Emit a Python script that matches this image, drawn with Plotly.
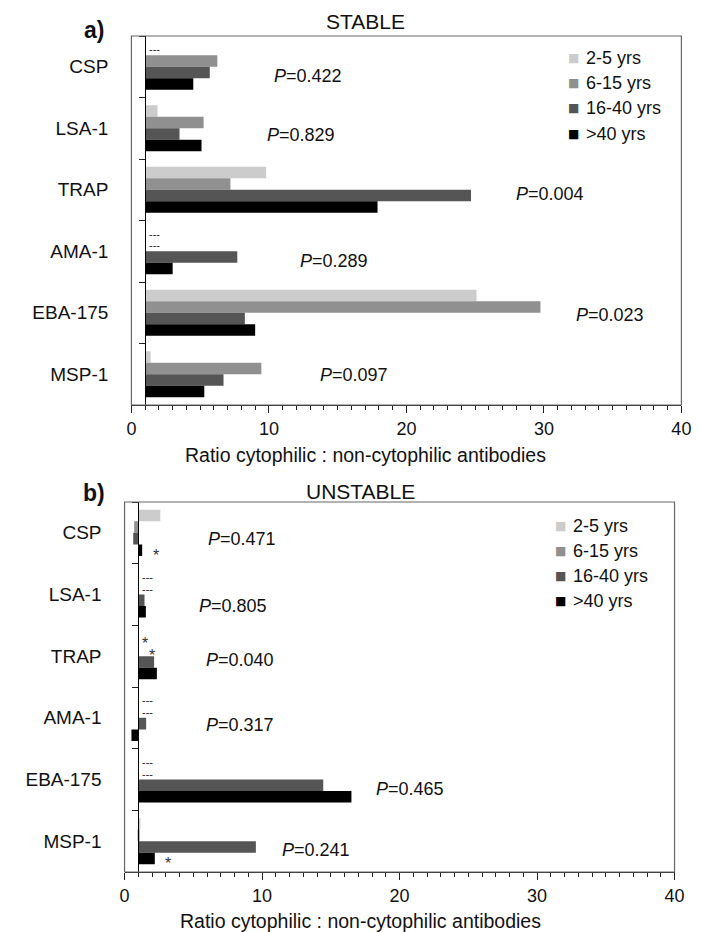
import plotly.graph_objects as go

# ---------------- data ----------------
categories = ["CSP", "LSA-1", "TRAP", "AMA-1", "EBA-175", "MSP-1"]
age_groups = ["2-5 yrs", "6-15 yrs", "16-40 yrs", ">40 yrs"]
group_colors = ["#cccccc", "#909090", "#555555", "#000000"]

stable_2_5 = [None, 1.9, 9.8, None, 25.1, 1.4]
stable_6_15 = [6.25, 5.25, 7.2, None, 29.75, 9.45]
stable_16_40 = [5.7, 3.5, 24.7, 7.7, 8.25, 6.7]
stable_gt40 = [4.5, 5.1, 17.9, 3.0, 9.0, 5.3]

unstable_2_5 = [2.6, None, None, None, None, 1.15]
unstable_6_15 = [0.7, None, None, None, None, 1.1]
unstable_16_40 = [0.63, 1.45, 2.15, 1.57, 14.45, 9.55]
unstable_gt40 = [1.28, 1.55, 2.35, 0.5, 16.5, 2.2]

stable_p = ["0.422", "0.829", "0.004", "0.289", "0.023", "0.097"]
unstable_p = ["0.471", "0.805", "0.040", "0.317", "0.465", "0.241"]

# (category, age-group index) flagged with an asterisk in the unstable panel
unstable_stars = [("CSP", 3), ("TRAP", 0), ("TRAP", 1), ("MSP-1", 3)]

x_ticks = [0, 10, 20, 30, 40]
baseline = 1  # ratio 1 reference (category axis crosses here)
x_title = "Ratio cytophilic : non-cytophilic antibodies"

# ---------------- layout helpers ----------------
W, H = 701, 932
FONT = "Liberation Sans, Arial, sans-serif"
BARGAP = 0.25
BAR_W = (1 - BARGAP) / len(age_groups)

def bar_offset(g):
    return (g - (len(age_groups) - 1) / 2) * BAR_W

panels = [
    dict(xa="x", ya="y", xdom=[121 / W, 683 / W], ydom=[1 - 397 / H, 1 - 28 / H],
         series=[stable_2_5, stable_6_15, stable_16_40, stable_gt40], pvals=stable_p,
         p_x=[10.2, 9.7, 27.8, 12.1, 32.2, 13.6], p_dy=[0.15, 0.11, 0.07, 0.16, 0.04, 0.01],
         stars=[], star_x=[],
         title="STABLE", title_xy=(360, 14), tag="a)", tag_xy=(83, 22),
         xtitle_xy=(360, 447),
         leg_sq_x=573, leg_txt_x=583, leg_y=[50, 75, 100, 126]),
    dict(xa="x2", ya="y2", xdom=[114 / W, 676 / W], ydom=[1 - 864 / H, 1 - 494 / H],
         series=[unstable_2_5, unstable_6_15, unstable_16_40, unstable_gt40], pvals=unstable_p,
         p_x=[5.9, 5.3, 5.8, 5.8, 18.15, 11.3], p_dy=[0.10, 0.19, 0.06, 0.12, 0.15, 0.14],
         stars=unstable_stars, star_x=[2.32, 1.45, 2.0, 3.18],
         title="UNSTABLE", title_xy=(355, 483), tag="b)", tag_xy=(83, 485),
         xtitle_xy=(355, 913),
         leg_sq_x=559, leg_txt_x=570, leg_y=[518, 543, 568, 593]),
]

fig = go.Figure()
annotations = []
shapes = []
layout_axes = {}

for p in panels:
    for g, (name, col, vals) in enumerate(zip(age_groups, group_colors, p["series"])):
        fig.add_trace(go.Bar(
            y=categories,
            x=[(v - baseline) if v is not None else None for v in vals],
            base=baseline,
            orientation="h",
            name=name,
            marker=dict(color=col, line=dict(width=0)),
            xaxis=p["xa"], yaxis=p["ya"],
            showlegend=False,
        ))
    xkey = "xaxis" if p["xa"] == "x" else "xaxis2"
    ykey = "yaxis" if p["ya"] == "y" else "yaxis2"
    x0, x1 = p["xdom"]
    ypos = x0 + (baseline - x_ticks[0]) / (x_ticks[-1] - x_ticks[0]) * (x1 - x0)
    layout_axes[xkey] = dict(
        domain=p["xdom"], anchor=p["ya"], range=[x_ticks[0], x_ticks[-1]],
        tickvals=x_ticks, ticks="outside", ticklen=7, tickcolor="#222",
        showline=True, linecolor="#222", linewidth=1, showgrid=False, zeroline=False,
        minor=dict(dtick=1, ticks="outside", ticklen=4, tickcolor="#222", showgrid=False),
        tickfont=dict(family=FONT, size=18, color="#111"),
    )
    layout_axes[ykey] = dict(
        domain=p["ydom"], anchor="free", position=ypos, type="category",
        categoryorder="array", categoryarray=categories,
        range=[len(categories) - 0.5, -0.5],
        showline=True, linecolor="#000", linewidth=1,
        ticks="outside", tickson="boundaries", ticklen=6, tickcolor="#222",
        ticklabelstandoff=33, showgrid=False, zeroline=False,
        tickfont=dict(family=FONT, size=19, color="#111"),
    )
    # plot-area frame
    shapes.append(dict(type="rect", xref=f"{p['xa']} domain", yref=f"{p['ya']} domain",
                       x0=0, x1=1, y0=0, y1=1, line=dict(color="#666", width=1.2),
                       layer="above"))
    # P values
    for i, (pv, px, dy) in enumerate(zip(p["pvals"], p["p_x"], p["p_dy"])):
        annotations.append(dict(xref=p["xa"], yref=p["ya"], x=px, y=i + dy,
                                text=f"<i>P</i>={pv}", showarrow=False, xanchor="left",
                                yanchor="middle", font=dict(family=FONT, size=18, color="#111")))
    # missing-value dashes and asterisks
    starred = set(p["stars"])
    for g, vals in enumerate(p["series"]):
        for i, v in enumerate(vals):
            if v is None and (categories[i], g) not in starred:
                annotations.append(dict(xref=p["xa"], yref=p["ya"], x=baseline + 0.12,
                                        y=i + bar_offset(g), text="---", showarrow=False,
                                        xanchor="left", yanchor="middle",
                                        font=dict(family=FONT, size=11, color="#222")))
    for (cat, g), sx in zip(p["stars"], p["star_x"]):
        i = categories.index(cat)
        annotations.append(dict(xref=p["xa"], yref=p["ya"], x=sx, y=i + bar_offset(g) + 0.08,
                                text="*", showarrow=False, xanchor="center", yanchor="middle",
                                font=dict(family=FONT, size=16, color="#333")))
    # titles
    annotations.append(dict(xref="paper", yref="paper", x=p["title_xy"][0] / W,
                            y=1 - p["title_xy"][1] / H, text=p["title"], showarrow=False,
                            xanchor="center", yanchor="middle",
                            font=dict(family=FONT, size=21, color="#111")))
    annotations.append(dict(xref="paper", yref="paper", x=p["tag_xy"][0] / W,
                            y=1 - p["tag_xy"][1] / H, text=f"<b>{p['tag']}</b>", showarrow=False,
                            xanchor="center", yanchor="middle",
                            font=dict(family=FONT, size=23, color="#111")))
    annotations.append(dict(xref="paper", yref="paper", x=p["xtitle_xy"][0] / W,
                            y=1 - p["xtitle_xy"][1] / H, text=x_title, showarrow=False,
                            xanchor="center", yanchor="middle",
                            font=dict(family=FONT, size=19.5, color="#111")))
    # legend
    for name, col, ly in zip(age_groups, group_colors, p["leg_y"]):
        annotations.append(dict(xref="paper", yref="paper", x=p["leg_sq_x"] / W, y=1 - ly / H,
                                text="■", showarrow=False, xanchor="center", yanchor="middle",
                                font=dict(family="DejaVu Sans", size=12, color=col)))
        annotations.append(dict(xref="paper", yref="paper", x=p["leg_txt_x"] / W, y=1 - ly / H,
                                text=name, showarrow=False, xanchor="left", yanchor="middle",
                                font=dict(family=FONT, size=18, color="#111")))

fig.update_layout(
    width=W, height=H,
    margin=dict(l=0, r=0, t=0, b=0),
    paper_bgcolor="white", plot_bgcolor="white",
    barmode="group", bargap=BARGAP, bargroupgap=0,
    showlegend=False,
    annotations=annotations, shapes=shapes,
    font=dict(family=FONT),
    **layout_axes,
)

fig.write_html("out.html")
